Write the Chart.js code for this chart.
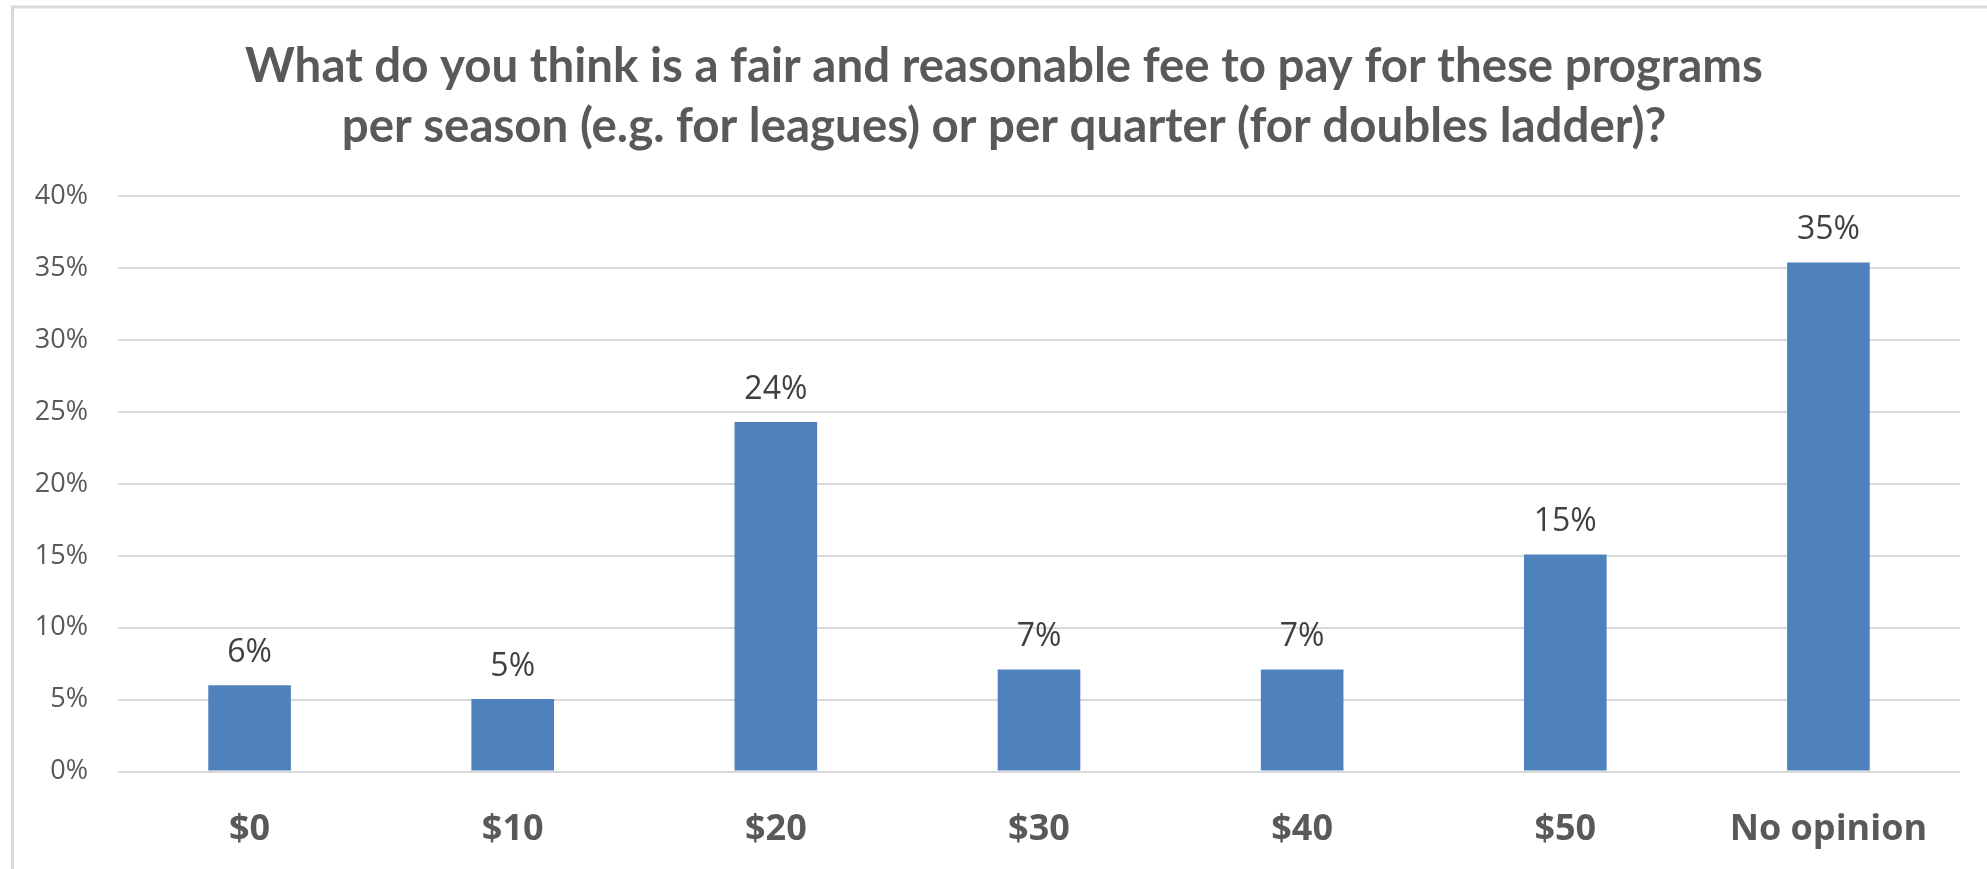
<!DOCTYPE html>
<html>
<head>
<meta charset="utf-8">
<script src="https://cdn.jsdelivr.net/npm/chart.js@4.4.1/dist/chart.umd.min.js"></script>
<style>
  html, body { margin: 0; padding: 0; background: #ffffff; overflow: hidden; }
  #wrap { position: relative; width: 1987px; height: 869px; }
  canvas { display: block; }
</style>
</head>
<body>
<div id="wrap"><canvas id="c" width="1987" height="869"></canvas></div>
<script>
const categories = ['$0', '$10', '$20', '$30', '$40', '$50', 'No opinion'];
const feeShares = [6.0, 5.05, 24.3, 7.1, 7.1, 15.1, 35.4];
const yTickMax = 40;
const yTickStep = 5;
const titleLines = [
  'What do you think is a fair and reasonable fee to pay for these programs',
  'per season (e.g. for leagues) or per quarter (for doubles ladder)?'
];

const TITLE_FONT_FAMILY = 'Lato, "Open Sans", sans-serif';
const TEXT_FAMILY = '"Open Sans", "Noto Sans", sans-serif';

// fit title size to the reference's line width
function fitTitleSize() {
  const cv = document.createElement('canvas');
  const cx = cv.getContext('2d');
  cx.font = 'bold 100px ' + TITLE_FONT_FAMILY;
  const w = cx.measureText(titleLines[0]).width;
  return 100 * 1518 / w;
}
const titleSize = fitTitleSize();

const framePlugin = {
  id: 'frame',
  beforeDraw(chart) {
    const ctx = chart.ctx;
    ctx.save();
    ctx.fillStyle = '#ffffff';
    ctx.fillRect(0, 0, chart.width, chart.height);
    ctx.strokeStyle = '#d9d9d9';
    ctx.lineWidth = 3;
    ctx.beginPath();
    ctx.moveTo(12.5, chart.height);
    ctx.lineTo(12.5, 7);
    ctx.lineTo(chart.width, 7);
    ctx.stroke();
    ctx.restore();
  },
  afterDraw(chart) {
    const ctx = chart.ctx;
    ctx.save();
    ctx.fillStyle = '#595959';
    ctx.textAlign = 'center';
    ctx.textBaseline = 'alphabetic';
    ctx.font = 'bold ' + titleSize.toFixed(2) + 'px ' + TITLE_FONT_FAMILY;
    ctx.fillText(titleLines[0], 1004, 82);
    ctx.fillText(titleLines[1], 1004, 142);
    ctx.restore();
  }
};

const barLabelPlugin = {
  id: 'barLabels',
  afterDatasetsDraw(chart) {
    const ctx = chart.ctx;
    const meta = chart.getDatasetMeta(0);
    const data = chart.data.datasets[0].data;
    ctx.save();
    ctx.fillStyle = '#404040';
    ctx.textAlign = 'center';
    ctx.textBaseline = 'alphabetic';
    ctx.font = '32px ' + TEXT_FAMILY;
    meta.data.forEach((bar, i) => {
      ctx.fillText(Math.round(data[i]) + '%', bar.x, bar.y - 23);
    });
    ctx.restore();
  }
};

new Chart(document.getElementById('c'), {
  type: 'bar',
  data: {
    labels: categories,
    datasets: [{
      data: feeShares,
      backgroundColor: '#4f81bd',
      borderWidth: 0,
      categoryPercentage: 1.0,
      barPercentage: 0.314
    }]
  },
  options: {
    responsive: false,
    animation: false,
    devicePixelRatio: 1,
    layout: { padding: { top: 196.3, left: 0, right: 27, bottom: 0 } },
    plugins: {
      legend: { display: false },
      title: { display: false },
      tooltip: { enabled: false }
    },
    scales: {
      x: {
        grid: { display: false, drawTicks: false },
        border: { display: false },
        ticks: {
          color: '#595959',
          font: { family: TEXT_FAMILY, size: 36, weight: 'bold' },
          padding: 37,
          maxRotation: 0,
          autoSkip: false
        },
        afterFit(scale) { scale.height = 97.4; }
      },
      y: {
        min: 0,
        max: yTickMax,
        grid: { color: '#d9d9d9', lineWidth: 2, drawTicks: false },
        border: { display: false },
        ticks: {
          stepSize: yTickStep,
          color: '#595959',
          font: { family: TEXT_FAMILY, size: 27 },
          padding: 30,
          callback: (v) => v + '%'
        },
        afterFit(scale) { scale.width = 118; }
      }
    }
  },
  plugins: [framePlugin, barLabelPlugin]
});
</script>
</body>
</html>
